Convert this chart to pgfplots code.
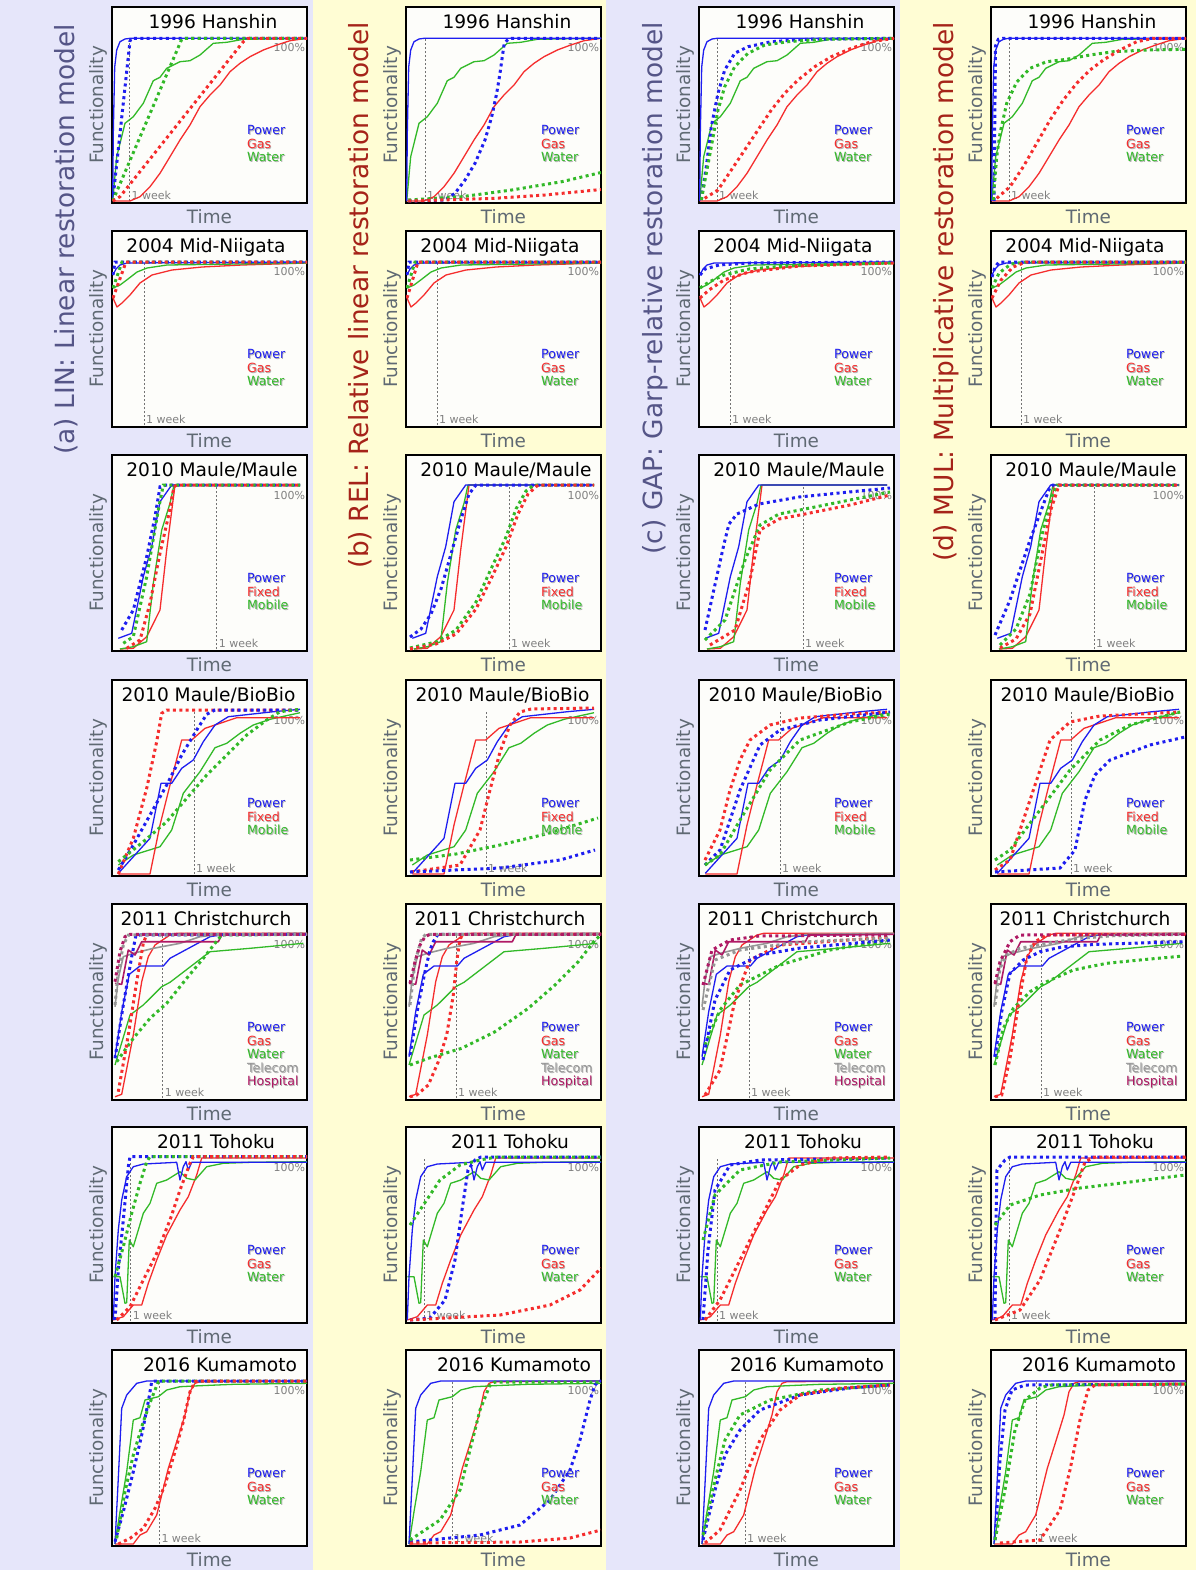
\documentclass[border=0pt]{standalone}
\usepackage{pgfplots}
\pgfplotsset{compat=1.18}
\usepackage{fontspec}
\setmainfont{DejaVu Sans}
\definecolor{bgA}{RGB}{230,230,250}
\definecolor{bgB}{RGB}{255,253,212}
\definecolor{plotbg}{RGB}{253,253,250}
\definecolor{cP}{RGB}{30,30,240}
\definecolor{cG}{RGB}{245,45,45}
\definecolor{cW}{RGB}{50,185,40}
\definecolor{cT}{RGB}{150,150,150}
\definecolor{cH}{RGB}{175,25,100}
\definecolor{lab}{RGB}{95,105,115}
\definecolor{ttlA}{RGB}{85,85,135}
\definecolor{ttlB}{RGB}{165,35,25}
\pgfplotsset{
  panel/.style={width=97.5pt,height=98pt,scale only axis,anchor=north west,
    xmin=0,xmax=195,ymin=-2,ymax=194,ticks=none,
    axis line style={line width=1pt,black},
    axis background/.style={fill=plotbg},
    clip mode=individual},
  obs/.style={line width=0.65pt,no marks,line join=round},
  mod/.style={line width=1.5pt,no marks,dash pattern=on 1.5pt off 1.7pt},
}
\tikzset{
  leg/.style={font=\fontsize{6.3}{7}\selectfont,anchor=base west,inner sep=0pt},
  ttl/.style={font=\fontsize{9.3}{10}\selectfont,anchor=base,inner sep=0pt},
  lbl/.style={font=\fontsize{9.2}{10}\selectfont,text=lab,inner sep=0pt},
  sml/.style={font=\fontsize{5.5}{6}\selectfont,text=black!50,inner sep=0pt},
  coltitle/.style={font=\fontsize{13.2}{14}\selectfont,rotate=90,anchor=east,inner sep=0pt},
}
\newcommand{\legitem}[3]{%
  \node[leg,text=black!30,xshift=0.45pt,yshift=-0.45pt] at (axis cs:134.7,#2) {#3};
  \node[leg,text=#1] at (axis cs:134.7,#2) {#3};}
\newcommand{\legPGW}{\legitem{cP}{66.3}{Power}\legitem{cG}{52.8}{Gas}\legitem{cW}{39.3}{Water}}
\newcommand{\legPFM}{\legitem{cP}{66.3}{Power}\legitem{cG}{52.8}{Fixed}\legitem{cW}{39.3}{Mobile}}
\newcommand{\legCh}{\legitem{cP}{66.3}{Power}\legitem{cG}{52.8}{Gas}\legitem{cW}{39.3}{Water}\legitem{cT}{25.8}{Telecom}\legitem{cH}{12.3}{Hospital}}
% #1 left px, #2 top px, #3 title, #4 week x, #5 legend, #6 plots, #7 title centre x
\newcommand{\panel}[7]{%
\begin{axis}[panel,at={(#1*0.5pt,-#2*0.5pt)}]
\draw[black!55,line width=0.3pt,dash pattern=on 1pt off 1pt] (axis cs:#4,0) -- (axis cs:#4,163);
\node[sml,anchor=base west,xshift=0.9pt] at (axis cs:#4,1.7) {1 week};
\node[sml,anchor=base east] at (axis cs:193.5,150) {100\%};
#6
\node[ttl] at (axis cs:#7,173) {#3};
\node[lbl,rotate=90,anchor=south] at (axis cs:-4,96) {Functionality};
\node[lbl,anchor=base] at (axis cs:97.5,-22) {Time};
#5
\end{axis}}
% ---------------- observed data (solid) ----------------
\newcommand{\obsHan}{%
\addplot[obs,cW] coordinates {(0.7,0) (4.7,44.3) (13,77.7) (21.3,84.3) (31.3,97.7) (41.3,120.3) (48,123.7) (54.7,132.7) (68,139.3) (78,140.3) (88,146) (101.3,157.7) (114.7,158.7) (131.3,161.7) (195,162.7)};
\addplot[obs,cG] coordinates {(0.7,0) (18,0) (28,4.3) (38,14.3) (48,27.7) (58,44.3) (68,61) (78,76) (88,94.3) (98,106) (108,116) (118,129.3) (128,137.7) (138,144.3) (151.3,151) (164.7,156) (178,160.3) (195,162.7)};
\addplot[obs,cP] coordinates {(0.7,0) (1.3,67.7) (2.7,134) (4.7,151) (8,159.3) (13,162) (18,162.7) (195,162.7)};}
\newcommand{\obsNii}{%
\addplot[obs,cG] coordinates {(1,127) (5,118) (10,122) (18,130) (28,142) (40,150) (60,155) (90,158) (130,160) (195,162)};
\addplot[obs,cW] coordinates {(1,137) (8,140) (16,146) (25,153) (35,157) (55,160) (195,162)};
\addplot[obs,cP] coordinates {(1,150) (4,156) (8,160) (15,162) (195,163)};}
\newcommand{\obsMM}{%
\addplot[obs,cG] coordinates {(8,0) (21.3,0.7) (34.7,12.3) (48,39) (54.7,99) (63,164) (188,164)};
\addplot[obs,cW] coordinates {(8,0) (21.3,2.3) (34.7,7.3) (41.3,65.7) (49.7,119) (58,145.7) (62,164) (188,164)};
\addplot[obs,cP] coordinates {(6.3,10.7) (19.7,15.7) (31.3,72.3) (39.7,102.3) (48,147.3) (59.7,164) (188,164)};}
\newcommand{\obsMB}{%
\addplot[obs,cW] coordinates {(6.3,9) (21.3,19) (48,27.3) (59.7,44) (71.3,80.7) (88,102.3) (103,126.3) (114.7,130.7) (128,140.7) (141.3,149) (158,154.7) (188,161.3)};
\addplot[obs,cG] coordinates {(6.3,0) (38,0) (48,49) (58,89) (69.7,134) (79.7,134) (93,145.7) (103,149) (124.7,156.3) (188,156.3)};
\addplot[obs,cP] coordinates {(6.3,0.7) (38,35.7) (49,90.7) (59.7,90.7) (69.7,105.7) (81.3,114) (91.3,132.3) (103,149) (116.3,157.3) (138,159.7) (161.3,162.3) (188,164.7)};}
\newcommand{\obsCh}{%
\addplot[obs,cW] coordinates {(3,33) (18,83) (31.3,93) (49.7,111.3) (58,115.7) (98,146.3) (138,149.7) (191.3,154.7)};
\addplot[obs,cG] coordinates {(3,1.3) (9.7,3.7) (21.3,63) (29.7,116.3) (36.3,141.3) (43,153) (58,163) (64.7,164.7) (195,164.7)};
\addplot[obs,cP] coordinates {(3,41.3) (9.7,86.3) (17.3,123.7) (28,132) (51.3,132) (58,139.7) (98,161.3) (108,163) (195,163.7)};
\addplot[obs,cT,line width=0.8pt] coordinates {(3,91.3) (6.3,119.7) (11.3,141.3) (21.3,144.7) (41.3,149.7) (68,154.7) (88,161.3) (108,163.7) (195,164.7)};
\addplot[obs,cH,line width=0.8pt] coordinates {(3,114.7) (9.7,113.7) (16.3,148) (23,143) (29.7,156.3) (106.3,156.3) (109.7,163) (195,163.7)};}
\newcommand{\obsTo}{%
\addplot[obs,cG] coordinates {(1.3,1) (11.3,4.3) (21.3,16) (29.7,16) (36.3,37.7) (44.7,61) (54.7,86) (68,111) (76.3,124.3) (84.7,146) (89.7,163) (195,163)};
\addplot[obs,cW] coordinates {(1.3,44.3) (8,44.3) (13,17.7) (14.7,18.3) (17.3,81) (21.3,74.3) (26.3,91) (31.3,107.7) (38,117.7) (44.7,137.7) (54.7,141) (68,149.3) (74.7,142.7) (83,141) (94.7,154.3) (111.3,157.7) (138,158.7) (195,159.3)};
\addplot[obs,cP] coordinates {(1.3,1) (3,44.3) (6.3,91) (9.7,121) (14.7,144.3) (21.3,154.3) (31.3,157) (64.7,158.7) (68,141) (71.3,154.3) (74,159.3) (76.3,151) (79.7,158.7) (195,158.7)};}
\newcommand{\obsKu}{%
\addplot[obs,cG] coordinates {(3,0) (21.3,0) (28,9) (34.7,12.3) (44.7,29) (49.7,49) (56.3,75.7) (64.7,102.3) (73,129) (78,152.3) (83,160.7) (88,162.3) (195,163)};
\addplot[obs,cW] coordinates {(3,0) (8,32.3) (14.7,72.3) (21.3,124) (28,126.3) (33,144) (46.3,147.3) (54.7,154) (68,157.3) (88,158.3) (121.3,159.7) (195,160.7)};
\addplot[obs,cP] coordinates {(3,0) (6.3,65.7) (9.7,135.7) (14.7,149) (24.7,160.7) (34.7,163) (195,163)};}
\begin{document}
\begin{tikzpicture}
\useasboundingbox (0,0) rectangle (598pt,-785pt);
\fill[bgA] (0,0) rectangle (156.5pt,-785pt);
\fill[bgB] (156.5pt,0) rectangle (303pt,-785pt);
\fill[bgA] (303pt,0) rectangle (450pt,-785pt);
\fill[bgB] (450pt,0) rectangle (598pt,-785pt);
\node[coltitle,text=ttlA] at (33pt,-12pt) {(a) LIN: Linear restoration model};
\node[coltitle,text=ttlB] at (180pt,-11pt) {(b) REL: Relative linear restoration model};
\node[coltitle,text=ttlA] at (327.5pt,-11pt) {(c) GAP: Garp-relative restoration model};
\node[coltitle,text=ttlB] at (473pt,-11pt) {(d) MUL: Multiplicative restoration model};
% ================= Row 1: Hanshin =================
\panel{112}{7}{1996 Hanshin}{17.5}{\legPGW}{\obsHan
\addplot[mod,cP] coordinates {(0.7,0) (18,160) (19.5,162.7) (195,162.7)};
\addplot[mod,cW] coordinates {(0.7,0) (69.7,161.7) (71,162.7) (195,162.7)};
\addplot[mod,cG] coordinates {(0.7,0) (8,4.3) (131.3,159.3) (136,162.7) (195,162.7)};}{101}
\panel{406}{7}{1996 Hanshin}{19}{\legPGW}{\obsHan
\addplot[mod,cP] coordinates {(2.3,0) (39,1) (49,7.7) (59,21) (69,37.7) (79,61) (85.7,84.3) (90.7,107.7) (94,127.7) (96.3,144.3) (98.3,157.7) (102.3,162) (106,162.7) (195,162.7)};
\addplot[mod,cW] coordinates {(2.3,1) (55.7,4.3) (105.7,11) (155.7,19.3) (195,28.5)};
\addplot[mod,cG] coordinates {(2.3,0) (89,2.7) (139,6) (195,11.5)};}{101}
\panel{699}{7}{1996 Hanshin}{18}{\legPGW}{\obsHan
\addplot[mod,cP] coordinates {(2.3,1) (7.3,34.3) (12.3,74.3) (19,107.7) (25.7,131) (35.7,147.7) (49,154.3) (72.3,159.3) (105.7,161.7) (195,162.7)};
\addplot[mod,cW] coordinates {(2.3,1) (7.3,27.7) (12.3,54.3) (19,91) (25.7,114.3) (35.7,134.3) (49,147.7) (65.7,156) (89,159.3) (122.3,161.7) (195,162.7)};
\addplot[mod,cG] coordinates {(5.7,2.7) (19,11) (32.3,31) (45.7,51) (59,71) (72.3,91) (85.7,107.7) (99,121) (115.7,134.3) (132.3,144.3) (152.3,152.7) (172.3,159.3) (195,162.7)};}{101}
\panel{991}{7}{1996 Hanshin}{18}{\legPGW}{\obsHan
\addplot[mod,cP] coordinates {(3,0) (4,100) (4.5,155) (7.3,161.7) (12,162.7) (195,162.7)};
\addplot[mod,cW] coordinates {(2.3,1) (5.7,44.3) (9,67.7) (15.7,97.7) (25.7,119) (39,132.7) (55.7,139.3) (75.7,141.7) (99,146) (122.3,149.3) (155.7,151) (195,151.7)};
\addplot[mod,cG] coordinates {(5.7,2.7) (19,14.3) (32.3,34.3) (45.7,57.7) (59,81) (72.3,101) (85.7,117.7) (99,131) (112.3,141) (129,151) (145.7,159.3) (162.3,162.7) (195,162.7)};}{101}
% ================= Row 2: Mid-Niigata =================
\panel{112}{231}{2004 Mid-Niigata}{32}{\legPGW}{\obsNii
\addplot[mod,cP] coordinates {(1,150) (3,163) (195,163)};
\addplot[mod,cW] coordinates {(1,137) (10,163) (195,163)};
\addplot[mod,cG] coordinates {(1,127) (14,163) (195,163)};}{94}
\panel{406}{231}{2004 Mid-Niigata}{31}{\legPGW}{\obsNii
\addplot[mod,cP] coordinates {(1,150) (3,163) (195,163)};
\addplot[mod,cW] coordinates {(1,137) (9,163) (195,163)};
\addplot[mod,cG] coordinates {(1,127) (12,163) (195,163)};}{94}
\panel{699}{231}{2004 Mid-Niigata}{31}{\legPGW}{\obsNii
\addplot[mod,cP] coordinates {(1,150) (6,156) (20,160) (50,162) (195,163)};
\addplot[mod,cW] coordinates {(1,137) (10,143) (25,150) (50,156) (100,160) (195,162)};
\addplot[mod,cG] coordinates {(1,127) (10,135) (25,145) (50,153) (100,159) (195,162)};}{94}
\panel{991}{231}{2004 Mid-Niigata}{30}{\legPGW}{\obsNii
\addplot[mod,cP] coordinates {(1,148) (4,158) (8,163) (195,163)};
\addplot[mod,cW] coordinates {(1,137) (8,152) (20,161) (35,163) (195,163)};
\addplot[mod,cG] coordinates {(1,127) (10,145) (22,158) (35,163) (195,163)};}{94}
% ================= Row 3: Maule/Maule =================
\panel{112}{455}{2010 Maule/Maule}{104.7}{\legPFM}{\obsMM
\addplot[mod,cP] coordinates {(9.7,19) (21.3,39) (34.7,92.3) (43,132.3) (48,162.3) (54.7,164) (188,164)};
\addplot[mod,cW] coordinates {(11.3,5.7) (21.3,12.3) (34.7,72.3) (46.3,139) (51.3,164) (188,164)};
\addplot[mod,cG] coordinates {(14.7,0.7) (28,9) (38,45.7) (48,95.7) (56.3,132.3) (62,162.3) (64.7,164) (188,164)};}{100}
\panel{406}{455}{2010 Maule/Maule}{103}{\legPFM}{\obsMM
\addplot[mod,cP] coordinates {(4,12) (15,20) (25,35) (35,60) (45,95) (55,130) (63,155) (70,164) (188,164)};
\addplot[mod,cW] coordinates {(4,1) (30,7) (50,19) (70,47) (85,80) (100,112) (110,140) (120,158) (128,164) (188,164)};
\addplot[mod,cG] coordinates {(4,0) (30,5) (50,15) (70,40) (85,70) (100,102) (112,135) (122,155) (132,164) (188,164)};}{100}
\panel{699}{455}{2010 Maule/Maule}{104}{\legPFM}{\obsMM
\addplot[mod,cP] coordinates {(6,19) (15,60) (25,105) (30,125) (38,135) (60,145) (100,152) (150,157) (191,161)};
\addplot[mod,cW] coordinates {(6,9) (26,29) (46,89) (61,124) (80,135) (101,139) (151,149) (191,157)};
\addplot[mod,cG] coordinates {(11,4) (36,19) (51,69) (61,119) (80,130) (101,134) (151,144) (191,154)};}{100}
\panel{991}{455}{2010 Maule/Maule}{103}{\legPFM}{\obsMM
\addplot[mod,cP] coordinates {(4,14) (19,49) (39,109) (54,149) (59,162) (62,164) (188,164)};
\addplot[mod,cW] coordinates {(9,4) (25,20) (39,55) (50,110) (60,150) (66,164) (188,164)};
\addplot[mod,cG] coordinates {(9,1) (25,10) (39,35) (50,90) (60,140) (68,164) (188,164)};}{100}
% ================= Row 4: Maule/BioBio =================
\panel{112}{680}{2010 Maule/BioBio}{82}{\legPFM}{\obsMB
\addplot[mod,cG] coordinates {(6.3,0) (21.3,35.7) (34.7,85.7) (44.7,132.3) (49.7,160.7) (54.7,164) (188,164)};
\addplot[mod,cP] coordinates {(6.3,4) (21.3,29) (38,59) (54.7,89) (69.7,119) (84.7,144) (94.7,159.7) (103,164) (188,164)};
\addplot[mod,cW] coordinates {(6.3,12.3) (31.3,32.3) (54.7,52.3) (74.7,75.7) (94.7,99) (114.7,119) (134.7,139) (154.7,154) (168,162.3) (188,164.7)};}{96.5}
\panel{406}{680}{2010 Maule/BioBio}{80}{\legPFM}{\obsMB
\addplot[mod,cG] coordinates {(5,2) (54,9) (74,44) (84,84) (94,122) (104,149) (114,162) (125,165) (188,166)};
\addplot[mod,cW] coordinates {(4,14) (50,20) (94,29) (140,40) (192,56)};
\addplot[mod,cP] coordinates {(4,2) (94,6) (154,14) (189,24)};}{96.5}
\panel{699}{680}{2010 Maule/BioBio}{81}{\legPFM}{\obsMB
\addplot[mod,cG] coordinates {(6,14) (21,44) (31,84) (41,114) (51,134) (71,149) (101,156) (151,160) (191,162)};
\addplot[mod,cP] coordinates {(6,9) (21,24) (41,84) (61,129) (81,144) (121,154) (191,162)};
\addplot[mod,cW] coordinates {(6,9) (21,19) (41,54) (71,104) (101,134) (151,152) (191,160)};}{96.5}
\panel{991}{680}{2010 Maule/BioBio}{80}{\legPFM}{\obsMB
\addplot[mod,cG] coordinates {(4,4) (19,14) (49,104) (59,134) (79,152) (109,158) (189,162)};
\addplot[mod,cW] coordinates {(4,14) (19,24) (49,64) (79,104) (109,134) (139,149) (189,162)};
\addplot[mod,cP] coordinates {(4,2) (69,6) (84,24) (94,74) (104,99) (119,114) (159,129) (194,137)};}{96.5}
% ================= Row 5: Christchurch =================
\panel{112}{904}{2011 Christchurch}{50.7}{\legCh}{\obsCh
\addplot[mod,cW] coordinates {(4.7,36.3) (21.3,59.7) (38,79.7) (54.7,94.7) (74.7,119.7) (91.3,139.7) (103,154.7) (109.7,163) (195,163.7)};
\addplot[mod,cG] coordinates {(6.3,6.3) (16.3,63) (24.7,116.3) (31.3,154.7) (34.7,163.7) (195,163.7)};
\addplot[mod,cP] coordinates {(3,39.7) (11.3,93) (19.7,141.3) (24,163) (195,163.7)};
\addplot[mod,cT] coordinates {(3,93) (6.3,126.3) (11.3,153) (16.3,163) (195,163.7)};
\addplot[mod,cH] coordinates {(3,116.3) (8,146.3) (13,161.3) (18,163.7) (195,163.7)};}{94}
\panel{406}{904}{2011 Christchurch}{50}{\legCh}{\obsCh
\addplot[mod,cW] coordinates {(4,33) (22.3,39.7) (55.7,49.7) (89,66.3) (122.3,89.7) (149,113) (172.3,136.3) (189,158) (195,163)};
\addplot[mod,cG] coordinates {(4,1.3) (10.7,3) (22.3,13) (32.3,36.3) (40.7,63) (47.3,103) (50.7,136.3) (54,159.7) (59,163.7) (195,163.7)};
\addplot[mod,cP] coordinates {(4,43) (12.3,93) (19,126.3) (24,148) (27.3,156.3) (32,163.7) (195,163.7)};
\addplot[mod,cT] coordinates {(4,93) (9,136) (15.7,159.7) (20,163.7) (195,163.7)};
\addplot[mod,cH] coordinates {(4,114.7) (9,136.3) (14,153) (19,161.3) (24,163.7) (195,163.7)};}{94}
\panel{699}{904}{2011 Christchurch}{50}{\legCh}{\obsCh
\addplot[mod,cW] coordinates {(6,53) (21,88) (41,113) (81,133) (131,148) (191,158)};
\addplot[mod,cG] coordinates {(6,3) (21,28) (36,98) (51,138) (81,153) (191,161)};
\addplot[mod,cP] coordinates {(4,38) (16,98) (31,128) (61,143) (101,150) (191,158)};
\addplot[mod,cT] coordinates {(4,88) (16,138) (41,148) (101,156) (191,160)};
\addplot[mod,cH] coordinates {(4,113) (13,148) (31,158) (60,162) (191,163)};}{94}
\panel{991}{904}{2011 Christchurch}{50}{\legCh}{\obsCh
\addplot[mod,cW] coordinates {(4,33) (12.3,69.7) (22.3,89.7) (39,106.3) (55.7,116.3) (82.3,128) (115.7,134.7) (155.7,138.7) (192.3,142)};
\addplot[mod,cG] coordinates {(4,1.3) (10.7,3) (19,39.7) (27.3,93) (35.7,139.7) (44,156.3) (55.7,163) (195,163.7)};
\addplot[mod,cP] coordinates {(4,41.3) (10.7,86.3) (19,124.7) (32.3,138) (49,146.3) (72.3,151.3) (105.7,153.7) (139,154.7) (192.3,156.3)};
\addplot[mod,cT] coordinates {(4,93) (9,129.7) (15.7,143) (29,149.7) (55.7,154.7) (89,159.7) (122.3,162.3) (192.3,163.7)};
\addplot[mod,cH] coordinates {(4,114.7) (9,136.3) (19,156.3) (29,163) (195,163.7)};}{94}
% ================= Row 6: Tohoku =================
\panel{112}{1127}{2011 Tohoku}{18.7}{\legPGW}{\obsTo
\addplot[mod,cP] coordinates {(3,1) (6.3,51) (11.3,101) (16.3,154.3) (18,164.3) (195,164.3)};
\addplot[mod,cW] coordinates {(3,44.3) (11.3,74.3) (19.7,107.7) (28,137.7) (34.7,159.3) (38,164.3) (195,164.3)};
\addplot[mod,cG] coordinates {(4.7,1) (18,14.3) (31.3,41) (44.7,67.7) (58,101) (68,131) (78,157.7) (81.3,164.3) (195,164.3)};}{104}
\panel{406}{1127}{2011 Tohoku}{18}{\legPGW}{\obsTo
\addplot[mod,cP] coordinates {(4,1) (24,3) (39,21) (49,61) (56,111) (62,151) (69,161) (75,164) (195,164)};
\addplot[mod,cW] coordinates {(4,96) (14,111) (34,141) (54,156) (74,161) (90,164) (195,164)};
\addplot[mod,cG] coordinates {(4,1) (94,6) (144,16) (174,31) (195,53)};}{104}
\panel{699}{1127}{2011 Tohoku}{18}{\legPGW}{\obsTo
\addplot[mod,cP] coordinates {(4,1) (9,71) (16,131) (31,156) (61,161) (191,163)};
\addplot[mod,cW] coordinates {(4,81) (16,126) (41,151) (81,159) (191,163)};
\addplot[mod,cG] coordinates {(6,1) (21,21) (41,61) (61,101) (81,141) (101,156) (131,163) (191,164)};}{104}
\panel{991}{1127}{2011 Tohoku}{18}{\legPGW}{\obsTo
\addplot[mod,cP] coordinates {(4,1) (5,100) (6,151) (14,161) (19,164) (195,164)};
\addplot[mod,cW] coordinates {(4,96) (19,116) (49,126) (89,133) (139,139) (194,146)};
\addplot[mod,cG] coordinates {(4,1) (29,11) (49,41) (69,91) (84,131) (94,159) (104,164) (195,164)};}{104}
% ================= Row 7: Kumamoto =================
\panel{112}{1350}{2016 Kumamoto}{47.3}{\legPGW}{\obsKu
\addplot[mod,cP] coordinates {(3,2.3) (11.3,32.3) (21.3,72.3) (29.7,109) (36.3,142.3) (39.7,162.3) (43,163) (195,163)};
\addplot[mod,cW] coordinates {(4.7,5.7) (13,52.3) (21.3,89) (31.3,122.3) (39.7,145.7) (46.3,162.3) (50,163) (195,163)};
\addplot[mod,cG] coordinates {(6.3,0) (18,5.7) (31.3,15.7) (43,35.7) (53,59) (63,92.3) (71.3,122.3) (78,152.3) (83,162.3) (86,163) (195,163)};}{108}
\panel{406}{1350}{2016 Kumamoto}{46}{\legPGW}{\obsKu
\addplot[mod,cP] coordinates {(4,2) (74,9) (114,19) (144,44) (164,74) (174,104) (184,144) (189,159) (193,163) (195,163)};
\addplot[mod,cW] coordinates {(4,4) (34,24) (54,54) (64,94) (74,134) (84,159) (89,162) (195,162)};
\addplot[mod,cG] coordinates {(4,1) (114,2) (164,6) (195,14)};}{108}
\panel{699}{1350}{2016 Kumamoto}{46}{\legPGW}{\obsKu
\addplot[mod,cP] coordinates {(4,4) (16,54) (26,89) (41,114) (61,134) (101,149) (151,156) (191,159)};
\addplot[mod,cW] coordinates {(4,9) (16,64) (26,104) (41,129) (71,144) (121,154) (191,159)};
\addplot[mod,cG] coordinates {(6,1) (21,14) (41,54) (61,104) (81,134) (101,149) (141,156) (191,159)};}{108}
\panel{991}{1350}{2016 Kumamoto}{45}{\legPGW}{\obsKu
\addplot[mod,cP] coordinates {(4,4) (9,84) (14,134) (21,154) (34,159) (195,160)};
\addplot[mod,cW] coordinates {(4,4) (14,54) (24,114) (34,144) (49,156) (59,159) (195,160)};
\addplot[mod,cG] coordinates {(9,1) (49,4) (69,34) (79,74) (89,124) (97,154) (104,159) (195,160)};}{108}
\end{tikzpicture}
\end{document}
